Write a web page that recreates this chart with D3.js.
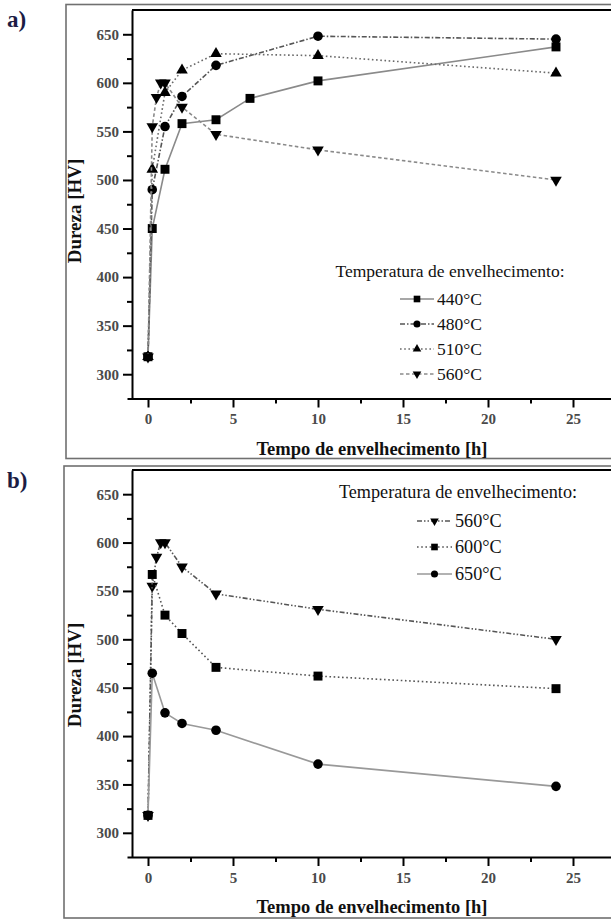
<!DOCTYPE html>
<html>
<head>
<meta charset="utf-8">
<script src="https://cdn.jsdelivr.net/npm/d3@7/dist/d3.min.js"></script>
<style>
  body { margin: 0; background: #fff; }
  text { font-family: "Liberation Serif", "Times New Roman", serif; }
</style>
</head>
<body>
<script>
// --- data ---
const legendTitle = "Temperatura de envelhecimento:";
const xTitle = "Tempo de envelhecimento [h]";
const yTitle = "Dureza [HV]";
const xTicks = [0, 5, 10, 15, 20, 25];
const xMinor = [2.5, 7.5, 12.5, 17.5, 22.5, 27.5];
const yTicks = [300, 350, 400, 450, 500, 550, 600, 650];
const yMinor = [325, 375, 425, 475, 525, 575, 625];

// panel a
const t440 = [0, 0.25, 1, 2, 4, 6, 10, 24];
const hv440 = [318, 450, 511, 558, 562, 584, 602, 637];
const t480 = [0, 0.25, 1, 2, 4, 10, 24];
const hv480 = [318, 490, 555, 586, 618, 648, 645];
const t510 = [0, 0.25, 1, 2, 4, 10, 24];
const hv510 = [318, 511, 590, 613, 630, 628, 610];
const t560 = [0, 0.25, 0.5, 0.75, 1, 2, 4, 10, 24];
const hv560 = [318, 555, 585, 600, 600, 575, 547, 531, 500];

// panel b
const t600 = [0, 0.25, 1, 2, 4, 10, 24];
const hv600 = [318, 567, 525, 506, 471, 462, 449];
const t650 = [0, 0.25, 1, 2, 4, 10, 24];
const hv650 = [318, 465, 424, 413, 406, 371, 348];

const svg = d3.select("body").append("svg")
  .attr("width", 611)
  .attr("height", 919);

// x scale shared by both panels (0 h sits at 148 px, 17 px per hour)
const x = d3.scaleLinear().domain([0, 24]).range([148, 556]);
const xAxisScale = x.copy().domain([x.invert(127), x.invert(625)]).range([127, 625]);

const symbols = {
  square: { type: d3.symbolSquare, size: 80, rot: 0 },
  circle: { type: d3.symbolCircle, size: 72, rot: 0 },
  up: { type: d3.symbolTriangle, size: 58, rot: 0 },
  down: { type: d3.symbolTriangle, size: 58, rot: 180 }
};

function drawPanel(p) {
  const g = svg.append("g");
  const y = d3.scaleLinear().domain([275, 675]).range([p.bottom, p.top]);

  // outer box around the panel
  g.append("rect")
    .attr("x", p.boxLeft).attr("y", p.boxTop)
    .attr("width", 700).attr("height", p.boxBottom - p.boxTop)
    .attr("fill", "none").attr("stroke", "#707070").attr("stroke-width", 1.6);

  g.append("text")
    .attr("x", 7).attr("y", p.labelY)
    .attr("font-size", 23).attr("font-weight", "bold")
    .attr("fill", "#1c1c44")
    .text(p.label);

  // top frame line
  g.append("line")
    .attr("x1", 132).attr("x2", 611)
    .attr("y1", p.top).attr("y2", p.top)
    .attr("stroke", "#000").attr("stroke-width", 2);

  // x axis
  const gx = g.append("g").attr("transform", `translate(0,${p.bottom})`)
    .call(d3.axisBottom(xAxisScale).tickValues(xTicks).tickSize(9).tickSizeOuter(0).tickPadding(6));
  g.append("g").attr("transform", `translate(0,${p.bottom})`)
    .call(d3.axisBottom(xAxisScale).tickValues(xMinor).tickSize(5).tickFormat(""))
    .select(".domain").remove();

  // y axis
  const gy = g.append("g").attr("transform", "translate(132,0)")
    .call(d3.axisLeft(y).tickValues(yTicks).tickSize(9).tickSizeOuter(0).tickPadding(4));
  g.append("g").attr("transform", "translate(132,0)")
    .call(d3.axisLeft(y).tickValues(yMinor).tickSize(5).tickFormat(""))
    .select(".domain").remove();

  g.selectAll(".domain").attr("stroke", "#000").attr("stroke-width", 2);
  g.selectAll(".tick line").attr("stroke", "#000").attr("stroke-width", 2);
  g.selectAll(".tick text")
    .attr("font-family", "Liberation Serif, serif")
    .attr("font-size", 15).attr("font-weight", "bold").attr("fill", "#4a4a4a");

  // axis titles
  g.append("text")
    .attr("x", 372).attr("y", p.bottom + 56)
    .attr("text-anchor", "middle")
    .attr("font-size", 18.5).attr("font-weight", "bold").attr("fill", "#111")
    .text(xTitle);
  g.append("text")
    .attr("transform", `translate(81,${p.yTitleY}) rotate(-90)`)
    .attr("text-anchor", "middle")
    .attr("font-size", 19).attr("font-weight", "bold").attr("fill", "#111")
    .text(yTitle);

  // series
  const line = d3.line().x(d => x(d[0])).y(d => y(d[1]));
  p.series.forEach(s => {
    const pts = d3.zip(s.t, s.hv);
    g.append("path")
      .datum(pts)
      .attr("d", line)
      .attr("fill", "none")
      .attr("stroke", s.color)
      .attr("stroke-width", 1.6)
      .attr("stroke-dasharray", s.dash);
    const sym = symbols[s.marker];
    g.selectAll(null).data(pts).join("path")
      .attr("d", d3.symbol().type(sym.type).size(sym.size))
      .attr("transform", d => `translate(${x(d[0])},${y(d[1])}) rotate(${sym.rot})`)
      .attr("fill", "#000");
  });

  // legend
  const lg = g.append("g");
  lg.append("text")
    .attr("x", p.legend.cx).attr("y", p.legend.titleY + 6)
    .attr("text-anchor", "middle")
    .attr("font-size", p.legend.size).attr("fill", "#111")
    .text(legendTitle);
  p.series.forEach((s, i) => {
    const ry = p.legend.rowY[i];
    lg.append("line")
      .attr("x1", p.legend.x1).attr("x2", p.legend.x2)
      .attr("y1", ry).attr("y2", ry)
      .attr("stroke", s.color).attr("stroke-width", 1.6)
      .attr("stroke-dasharray", s.dash);
    const sym = symbols[s.marker];
    lg.append("path")
      .attr("d", d3.symbol().type(sym.type).size(sym.size * 0.55))
      .attr("transform", `translate(${(p.legend.x1 + p.legend.x2) / 2},${ry}) rotate(${sym.rot})`)
      .attr("fill", "#000");
    lg.append("text")
      .attr("x", p.legend.x2 + 3).attr("y", ry + 6)
      .attr("font-size", p.legend.size).attr("fill", "#111")
      .text(s.name);
  });
}

drawPanel({
  label: "a)", labelY: 27,
  boxLeft: 66, boxTop: 4.5, boxBottom: 458.5,
  top: 10, bottom: 398.5, yTitleY: 211,
  series: [
    { name: "440°C", t: t440, hv: hv440, marker: "square", color: "#8a8a8a", dash: null },
    { name: "480°C", t: t480, hv: hv480, marker: "circle", color: "#555", dash: "5,2,1.5,2" },
    { name: "510°C", t: t510, hv: hv510, marker: "up", color: "#6a6a6a", dash: "1.6,2.6" },
    { name: "560°C", t: t560, hv: hv560, marker: "down", color: "#8a8a8a", dash: "3.5,2.5" }
  ],
  legend: { cx: 450, titleY: 271, rowY: [299, 324, 349, 374], x1: 400, x2: 434, size: 17.5 }
});

drawPanel({
  label: "b)", labelY: 488,
  boxLeft: 64, boxTop: 466, boxBottom: 918,
  top: 470, bottom: 857, yTitleY: 675,
  series: [
    { name: "560°C", t: t560, hv: hv560, marker: "down", color: "#555", dash: "5,2,1.5,2,1.5,2" },
    { name: "600°C", t: t600, hv: hv600, marker: "square", color: "#555", dash: "1.6,2.6" },
    { name: "650°C", t: t650, hv: hv650, marker: "circle", color: "#999", dash: null }
  ],
  legend: { cx: 458, titleY: 492, rowY: [521, 547, 574], x1: 417, x2: 452, size: 18.2 }
});
</script>
</body>
</html>
